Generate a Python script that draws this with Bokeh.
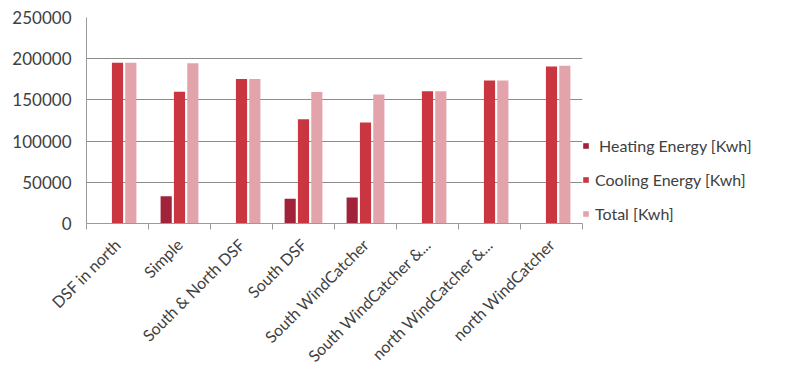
from bokeh.plotting import figure
from bokeh.models import (ColumnDataSource, Range1d, LinearAxis,
                          FixedTicker, NumeralTickFormatter, Legend, LegendItem)
from bokeh.transform import dodge
from bokeh.embed import file_html
from bokeh.resources import INLINE
import math

categories = ["DSF in north", "Simple", "South & North DSF", "South DSF", "South WindCatcher",
              "South WindCatcher &...", "north WindCatcher &...", "north WindCatcher"]
heating = [0, 33000, 0, 30000, 31500, 0, 0, 0]
cooling = [195000, 160000, 175500, 126500, 122500, 160500, 173500, 190500]
total = [195000, 194500, 175500, 159500, 156500, 160500, 173500, 191500]
y_ticks = [0, 50000, 100000, 150000, 200000, 250000]

series_names = [" Heating Energy [Kwh]", "Cooling Energy [Kwh]", "Total [Kwh]"]
colors = ["#A0233A", "#C9363F", "#E2A3AB"]

n = len(categories)
xpos = [i + 0.5 for i in range(n)]
src = ColumnDataSource(dict(x=xpos, cat=categories, heating=heating, cooling=cooling, total=total))

FONT = "Lato"
TXT = "#404040"

p = figure(x_range=Range1d(0, n), y_range=Range1d(0, 250000),
           frame_width=496, frame_height=206, output_backend="svg", toolbar_location=None,
           x_axis_location=None, min_border_left=86, min_border_right=0,
           min_border_top=17, min_border_bottom=0, outline_line_color=None,
           background_fill_color="white", border_fill_color="white")

r1 = p.vbar(x=dodge("x", -0.215), top="heating", width=0.18, source=src,
            fill_color=colors[0], line_color=None)
r2 = p.vbar(x=dodge("x", 0.0), top="cooling", width=0.18, source=src,
            fill_color=colors[1], line_color=None)
r3 = p.vbar(x=dodge("x", 0.215), top="total", width=0.18, source=src,
            fill_color=colors[2], line_color=None)

# y axis
ya = p.yaxis[0]
ya.ticker = FixedTicker(ticks=y_ticks)
ya.formatter = NumeralTickFormatter(format="0")
ya.major_label_text_font = FONT
ya.major_label_text_font_size = "17px"
ya.major_label_text_color = TXT
ya.axis_line_color = "#9a9a9a"
ya.major_tick_line_color = None
ya.major_tick_out = 0
ya.minor_tick_line_color = None
ya.major_label_standoff = 15

p.ygrid.ticker = FixedTicker(ticks=y_ticks)
p.ygrid.grid_line_color = "#8c8c8c"
p.ygrid.grid_line_width = 1
p.xgrid.grid_line_color = None

# category axis: labels at centres, Excel-style ticks at category boundaries
xa = LinearAxis(ticker=FixedTicker(ticks=xpos, minor_ticks=list(range(n + 1))),
                major_label_overrides={x: c for x, c in zip(xpos, categories)},
                axis_line_color="#9a9a9a", major_tick_line_color=None, major_tick_out=0,
                minor_tick_line_color="#9a9a9a", minor_tick_in=0, minor_tick_out=6,
                major_label_orientation=math.pi / 4, major_label_text_font=FONT,
                major_label_text_font_size="16px", major_label_text_color=TXT,
                major_label_standoff=12)
p.add_layout(xa, "below")

legend = Legend(items=[LegendItem(label=series_names[0], renderers=[r1]),
                       LegendItem(label=series_names[1], renderers=[r2]),
                       LegendItem(label=series_names[2], renderers=[r3])],
                location="bottom_left", border_line_color=None, background_fill_alpha=0,
                label_text_font=FONT, label_text_font_size="16px", label_text_color=TXT,
                glyph_width=7, glyph_height=7, label_height=18, spacing=15, padding=0,
                margin=0, label_standoff=6)
p.add_layout(legend, "right")

open("out.html", "w").write(file_html(p, INLINE))
